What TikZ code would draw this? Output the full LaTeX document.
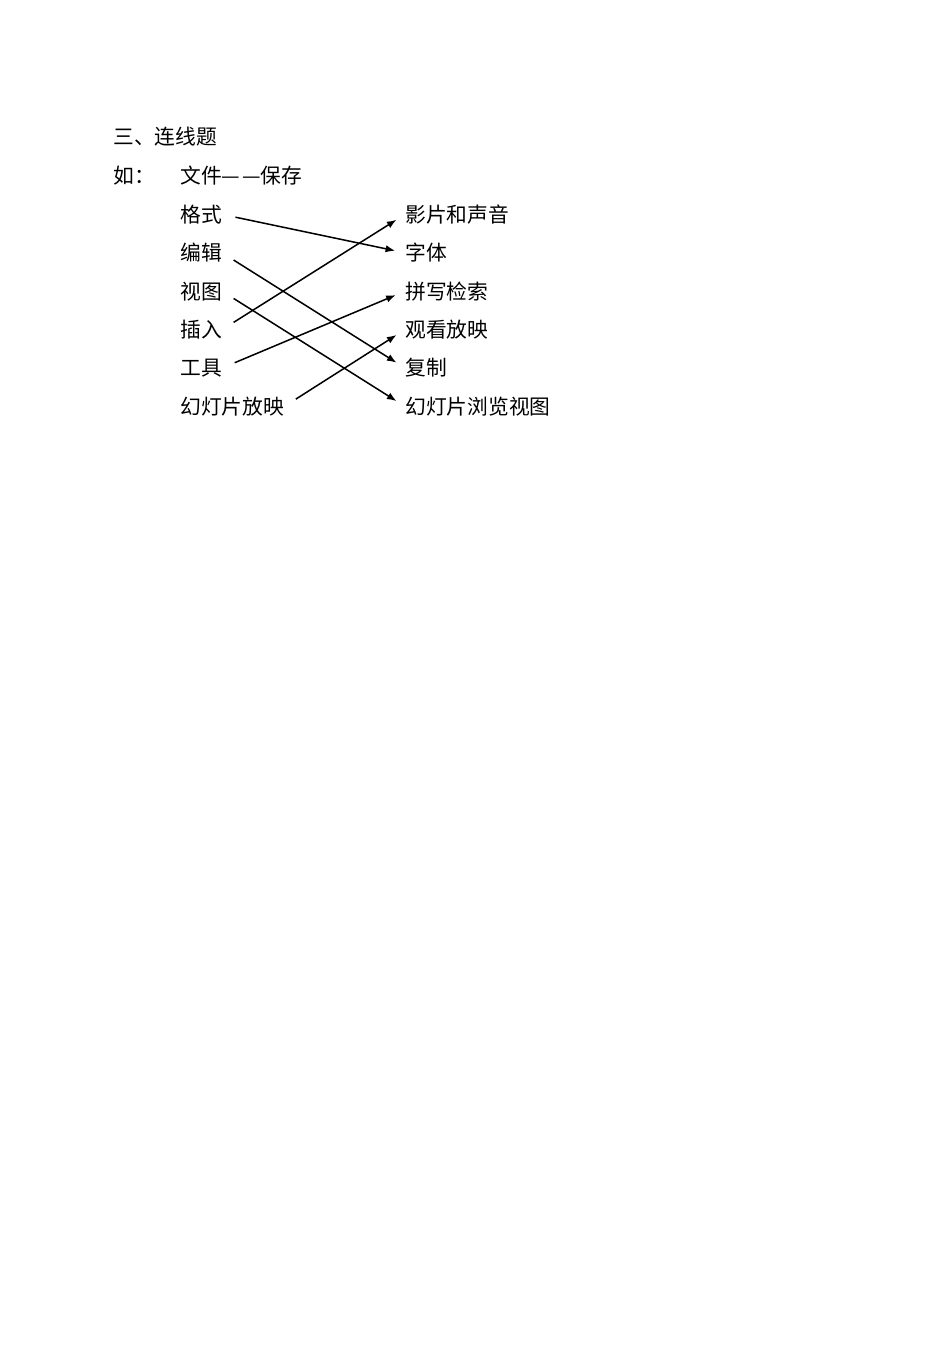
\documentclass[tikz,border=0pt]{standalone}
\usepackage{fontspec}
\setmainfont{Noto Sans CJK SC}
\usetikzlibrary{arrows.meta,positioning}

\begin{document}
\begin{tikzpicture}[x=0.6265pt,y=-0.6265pt,
    item/.style={anchor=west,inner sep=0pt,font=\fontsize{13pt}{15pt}\selectfont},
    link/.style={line width=0.95pt,-{Latex[length=6pt,width=4.6pt]},shorten <=8.5pt,shorten >=6.3pt}]
        \useasboundingbox (0,0) rectangle (950,1345);

        \node[item] (title) at (113,137) {三、连线题};
        \node[item] (ru) at (113,176) {如：};
        \node[item] (eg) at (180,176) {文件—\kern1.5pt—\kern-0.5pt保存};

        \foreach \name/\t [count=\i] in {ge/格式,bj/编辑,st/视图,cr/插入,gj/工具,hd/幻灯片放映}
          \node[item] (\name) at (180,176+38.4*\i) {\t};
        \foreach \name/\t [count=\i] in {yp/影片和声音,zt/字体,px/拼写检索,gk/观看放映,fz/复制,ll/幻灯片浏览视图}
          \node[item] (\name) at (405,176+38.4*\i) {\t};

        \foreach \a/\b in {ge/zt,bj/fz,st/ll,cr/yp,gj/px,hd/gk}
          \draw[link] (\a.east) -- (\b.west);
\end{tikzpicture}
\end{document}
